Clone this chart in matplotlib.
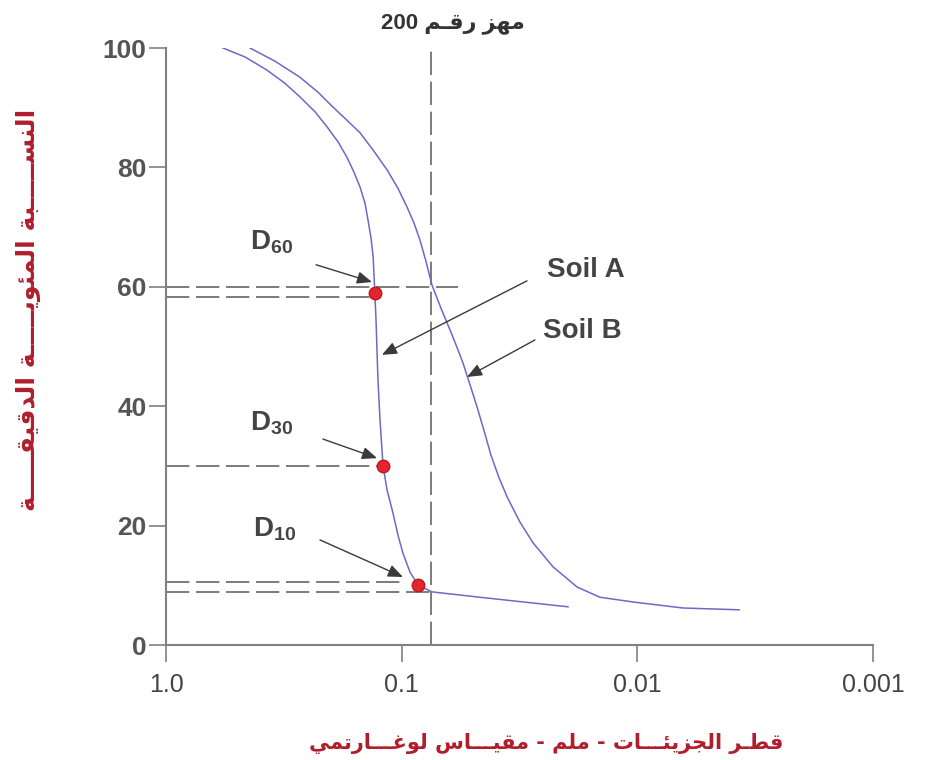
import re
import matplotlib
matplotlib.use('Agg')
import matplotlib.pyplot as plt

plt.rcParams['font.family'] = ['Liberation Sans', 'DejaVu Sans']
plt.rcParams['mathtext.fontset'] = 'custom'
plt.rcParams['mathtext.rm'] = 'Liberation Sans'
plt.rcParams['mathtext.bf'] = 'Liberation Sans:bold'

# grain size distribution curves: particle diameter (mm) vs percent finer
soil_a_d = [0.573, 0.462, 0.373, 0.313, 0.270, 0.233, 0.2074, 0.1864, 0.1707,
            0.1594, 0.1502, 0.1431, 0.1390, 0.1350, 0.1323, 0.1311, 0.130,
            0.1285, 0.1273, 0.1261, 0.1236, 0.120, 0.1154, 0.1089, 0.1037,
            0.0988, 0.0922, 0.085, 0.0744, 0.0466, 0.0197]
soil_a_p = [100, 98.5, 96.3, 94.1, 91.8, 89.3, 86.8, 84.3, 81.7,
            79.2, 76.7, 74.0, 71.2, 68.2, 65.2, 62.0, 59.0,
            54.4, 49.4, 44.4, 37.7, 30.0, 26.0, 22.1, 18.4,
            15.4, 12.2, 10.0, 8.9, 8.0, 6.4]
soil_b_d = [0.440, 0.345, 0.270, 0.2265, 0.1956, 0.1707, 0.1502, 0.1311,
            0.1154, 0.1037, 0.0950, 0.0887, 0.0836, 0.0788, 0.0744, 0.0681,
            0.0624, 0.0583, 0.0549, 0.0513, 0.0479, 0.0448, 0.0418, 0.0387,
            0.0357, 0.0315, 0.0277, 0.0228, 0.0180, 0.0144, 0.0104, 0.0064, 0.0037]
soil_b_p = [100, 97.8, 95.1, 92.6, 90.1, 87.9, 85.8, 82.7,
            79.6, 76.5, 73.4, 70.7, 67.8, 64.2, 60.3, 56.4,
            52.8, 49.9, 47.2, 43.6, 39.9, 36.0, 31.8, 28.1,
            24.8, 20.6, 17.1, 13.1, 9.7, 8.0, 7.2, 6.2, 5.9]

# effective sizes on soil A
d_names = ['60', '30', '10']
d_sizes = [0.130, 0.120, 0.085]
d_pcts = [59.0, 30.0, 10.0]

sieve_200 = 0.075  # mm

x_ticks = [1.0, 0.1, 0.01, 0.001]
x_tick_labels = ['1.0', '0.1', '0.01', '0.001']
y_ticks = [0, 20, 40, 60, 80, 100]

x_title = 'قطـر الجزيئـــات - ملم - مقيـــاس لوغـــارتمي'
y_title = 'النســـــبة المئويـــــة الدقيقـــــة'
sieve_title = 'مهز رقـم 200'


# --- minimal Arabic shaping (presentation forms) + visual reordering ---
FORMS = {
    'ا': ('\uFE8D', '\uFE8E', None, None),
    'ب': ('\uFE8F', '\uFE90', '\uFE91', '\uFE92'),
    'ة': ('\uFE93', '\uFE94', None, None),
    'ت': ('\uFE95', '\uFE96', '\uFE97', '\uFE98'),
    'ج': ('\uFE9D', '\uFE9E', '\uFE9F', '\uFEA0'),
    'د': ('\uFEA9', '\uFEAA', None, None),
    'ر': ('\uFEAD', '\uFEAE', None, None),
    'ز': ('\uFEAF', '\uFEB0', None, None),
    'س': ('\uFEB1', '\uFEB2', '\uFEB3', '\uFEB4'),
    'ط': ('\uFEC1', '\uFEC2', '\uFEC3', '\uFEC4'),
    'غ': ('\uFECD', '\uFECE', '\uFECF', '\uFED0'),
    'ق': ('\uFED5', '\uFED6', '\uFED7', '\uFED8'),
    'ل': ('\uFEDD', '\uFEDE', '\uFEDF', '\uFEE0'),
    'م': ('\uFEE1', '\uFEE2', '\uFEE3', '\uFEE4'),
    'ن': ('\uFEE5', '\uFEE6', '\uFEE7', '\uFEE8'),
    'ه': ('\uFEE9', '\uFEEA', '\uFEEB', '\uFEEC'),
    'و': ('\uFEED', '\uFEEE', None, None),
    'ي': ('\uFEF1', '\uFEF2', '\uFEF3', '\uFEF4'),
    'ئ': ('\uFE89', '\uFE8A', '\uFE8B', '\uFE8C'),
    'ـ': ('ـ', 'ـ', 'ـ', 'ـ'),
}


def dual(c):
    return c in FORMS and FORMS[c][2] is not None


def arabic(text):
    out = []
    for i, c in enumerate(text):
        if c not in FORMS:
            out.append(c)
            continue
        prev = i > 0 and dual(text[i - 1])
        nxt = dual(c) and i + 1 < len(text) and text[i + 1] in FORMS
        iso, fin, ini, med = FORMS[c]
        if prev and nxt:
            out.append(med)
        elif prev:
            out.append(fin)
        elif nxt:
            out.append(ini)
        else:
            out.append(iso)
    vis = ''.join(out)[::-1]
    return re.sub(r'[0-9A-Za-z.]+', lambda m: m.group(0)[::-1], vis)


fig = plt.figure(figsize=(9.25, 7.6), dpi=100)
ax = fig.add_axes([0.1795, 0.1513, 0.7643, 0.7855])

curve_col = '#6a6ac8'
guide_col = '#666666'
dash = (0, (14, 4))

ax.plot(soil_a_d, soil_a_p, color=curve_col, lw=1.1, zorder=3)
ax.plot(soil_b_d, soil_b_p, color=curve_col, lw=1.1, zorder=3)

# guide lines
ax.vlines(sieve_200, 0, 100, colors=guide_col, linestyles=dash, lw=1.2, zorder=2)
ax.hlines(60, 1.0, 0.0577, colors=guide_col, linestyles=dash, lw=1.2, zorder=2)
ax.hlines(58.3, 1.0, d_sizes[0], colors=guide_col, linestyles=dash, lw=1.2, zorder=2)
ax.hlines(d_pcts[1], 1.0, d_sizes[1], colors=guide_col, linestyles=dash, lw=1.2, zorder=2)
ax.hlines(10.6, 1.0, 0.0988, colors=guide_col, linestyles=dash, lw=1.2, zorder=2)
ax.hlines(8.9, 1.0, sieve_200, colors=guide_col, linestyles=dash, lw=1.2, zorder=2)

ax.plot(d_sizes, d_pcts, 'o', ms=9, mfc='#e3262b', mec='#c0181d', mew=1, zorder=4)

arrow = dict(arrowstyle='-|>,head_length=0.6,head_width=0.25', color='#3a3a3a',
             lw=1.0, shrinkA=0, shrinkB=0, mutation_scale=15)
txt = dict(fontsize=20, fontweight='bold', color='#444444')

# D labels with arrows
d_text_pos = [(0.440, 66.2), (0.440, 36.0), (0.4275, 18.1)]
d_tail = [(0.231, 63.7), (0.2158, 34.5), (0.2222, 17.6)]
d_tip = [(0.1337, 60.8), (0.1273, 31.3), (0.0988, 11.4)]
for name, pos, tail, tip in zip(d_names, d_text_pos, d_tail, d_tip):
    ax.text(pos[0], pos[1], r'$\mathbf{D_{%s}}$' % name, fontsize=20,
            color='#444444', ha='left', va='baseline')
    ax.annotate('', xy=tip, xytext=tail, arrowprops=arrow)

ax.text(0.02417, 61.6, 'Soil A', ha='left', va='baseline', **txt)
ax.annotate('', xy=(0.1213, 48.6), xytext=(0.0294, 61.0), arrowprops=arrow)
ax.text(0.02515, 51.4, 'Soil B', ha='left', va='baseline', **txt)
ax.annotate('', xy=(0.0528, 44.9), xytext=(0.0272, 51.1), arrowprops=arrow)

ax.set_xscale('log')
ax.set_xlim(1.0, 0.001)
ax.set_ylim(0, 100)
ax.set_xticks(x_ticks)
ax.set_xticklabels(x_tick_labels)
ax.minorticks_off()
ax.set_yticks(y_ticks)

for s in ['top', 'right']:
    ax.spines[s].set_visible(False)
for s in ['left', 'bottom']:
    ax.spines[s].set_color('#808080')
    ax.spines[s].set_linewidth(1.5)

ax.tick_params(axis='y', length=12, width=1.2, color='#808080', pad=2,
               labelsize=19, labelcolor='#555555')
ax.tick_params(axis='x', length=12, width=1.2, color='#808080', pad=8,
               labelsize=18, labelcolor='#444444')
for lab in ax.get_yticklabels():
    lab.set_fontweight('bold')

arabic_col = '#b01e2c'
fig.text(0.59, 1 - 743 / 760, arabic(x_title), ha='center', va='center',
         fontsize=15, fontweight='bold', color=arabic_col,
         family=['DejaVu Sans'])
fig.text(28 / 925, 1 - 310 / 760, arabic(y_title), ha='center', va='center',
         rotation=90, fontsize=18, fontweight='bold', color=arabic_col,
         family=['DejaVu Sans'])
fig.text(453 / 925, 1 - 23 / 760, arabic(sieve_title), ha='center', va='center',
         fontsize=16, fontweight='bold', color='#333333',
         family=['Liberation Sans', 'DejaVu Sans'])

fig.savefig('out.png', dpi=100, facecolor='white')
